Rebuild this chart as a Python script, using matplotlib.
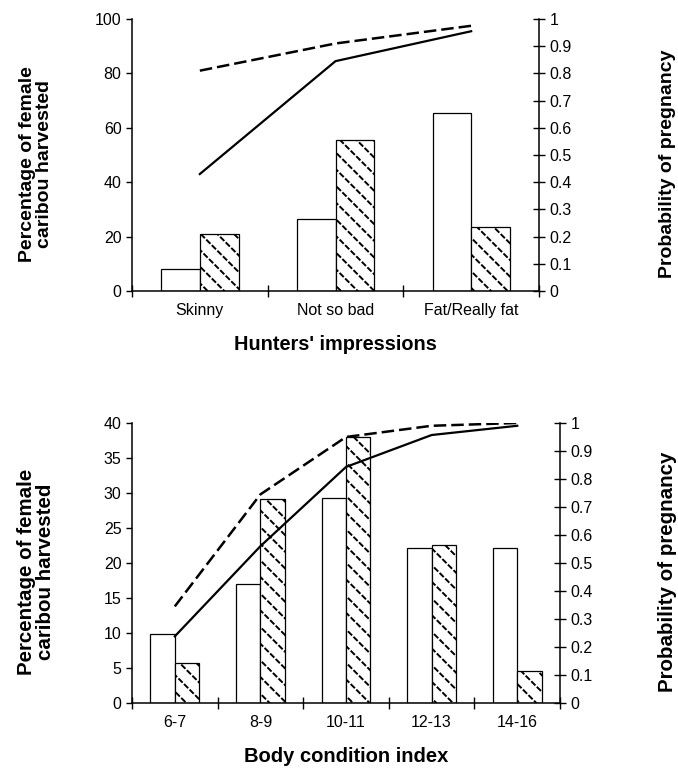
import numpy as np
import matplotlib
matplotlib.use("Agg")
import matplotlib.pyplot as plt

plt.rcParams["font.family"] = ["Liberation Sans", "DejaVu Sans"]
plt.rcParams["hatch.linewidth"] = 1.4

# ── data: hunters' impressions ─────────────────────────────────────────────
hunt_cats = ["Skinny", "Not so bad", "Fat/Really fat"]
hunt_white = [8, 26.5, 65.5]
hunt_hatch = [21, 55.5, 23.5]
hunt_solid = [0.43, 0.845, 0.955]
hunt_dash = [0.81, 0.91, 0.975]

# ── data: body condition index ────────────────────────────────────────────
bci_cats = ["6-7", "8-9", "10-11", "12-13", "14-16"]
bci_white = [9.8, 17.0, 29.3, 22.1, 22.1]
bci_hatch = [5.7, 29.1, 38.0, 22.6, 4.5]
bci_solid = [0.238, 0.56, 0.843, 0.957, 0.99]
bci_dash = [0.345, 0.745, 0.95, 0.99, 1.0]


def panel(ax, cats, white, hatch, solid, dash, ymax, ystep, xlabel, fs):
    n = len(cats)
    x = np.arange(n)
    w = 0.285
    ax.bar(x - w / 2, white, w, color="white", edgecolor="black", linewidth=0.9, zorder=2)
    # dotted-diagonal fill: black "\" hatch broken up by white "/" hatch
    ax.bar(x + w / 2, hatch, w, color="white", edgecolor="black", linewidth=0,
           hatch="\\\\", zorder=2)
    ax.bar(x + w / 2, hatch, w, color="none", edgecolor="white", linewidth=0,
           hatch="///", zorder=2.1)
    ax.bar(x + w / 2, hatch, w, color="none", edgecolor="black", linewidth=0.9, zorder=2.2)
    ax.set_xlim(-0.5, n - 0.5)
    ax.set_ylim(0, ymax)
    ax.set_yticks(np.arange(0, ymax + 0.01, ystep))
    ax.set_xticks(np.arange(n + 1) - 0.5)
    ax.set_xticklabels([])
    ax.set_xticks(x, minor=True)
    ax.set_xticklabels(cats, minor=True, fontsize=11.5)
    ax.tick_params(axis="x", which="major", direction="inout", length=8, width=1)
    ax.tick_params(axis="x", which="minor", length=0, pad=9)
    ax.tick_params(axis="y", direction="out", length=4, width=1, labelsize=11.5)
    for s in ["top", "right"]:
        ax.spines[s].set_visible(False)
    for s in ["left", "bottom"]:
        ax.spines[s].set_linewidth(1.1)
    ax.set_xlabel(xlabel, fontsize=fs, fontweight="bold", labelpad=12)

    ax2 = ax.twinx()
    ax2.plot(x, solid, color="black", lw=1.6, zorder=3)
    ln, = ax2.plot(x, dash, color="black", lw=1.8, zorder=3)
    ln.set_dashes([5, 2])
    ax2.set_ylim(0, 1)
    ax2.set_yticks(np.arange(0, 1.01, 0.1))
    ax2.set_yticklabels(["0"] + [f"{v:.1f}" for v in np.arange(0.1, 0.95, 0.1)] + ["1"])
    ax2.tick_params(axis="y", direction="inout", length=8, width=1, labelsize=11.5)
    for s in ["top", "left", "bottom"]:
        ax2.spines[s].set_visible(False)
    ax2.spines["right"].set_linewidth(1.1)


fig = plt.figure(figsize=(6.78, 7.72), dpi=100)
ax_top = fig.add_axes([0.1947, 0.6231, 0.6003, 0.3523])
ax_bot = fig.add_axes([0.1947, 0.0894, 0.6313, 0.3627])

panel(ax_top, hunt_cats, hunt_white, hunt_hatch, hunt_solid, hunt_dash,
      100, 20, "Hunters' impressions", 14.3)
panel(ax_bot, bci_cats, bci_white, bci_hatch, bci_solid, bci_dash,
      40, 5, "Body condition index", 14.5)

# axis titles placed in figure coordinates (slightly below axis centre, as in the source)
for ax, fs in ((ax_top, 14.0), (ax_bot, 14.8)):
    b = ax.get_position()
    yc = b.y0 + b.height / 2 - 0.012
    fig.text(0.053, yc, "Percentage of female\ncaribou harvested", rotation=90,
             ha="center", va="center", fontsize=fs, fontweight="bold",
             linespacing=1.05)
    fig.text(0.984, yc, "Probability of pregnancy", rotation=90,
             ha="center", va="center", fontsize=fs, fontweight="bold")

fig.savefig("out.png", dpi=100)
